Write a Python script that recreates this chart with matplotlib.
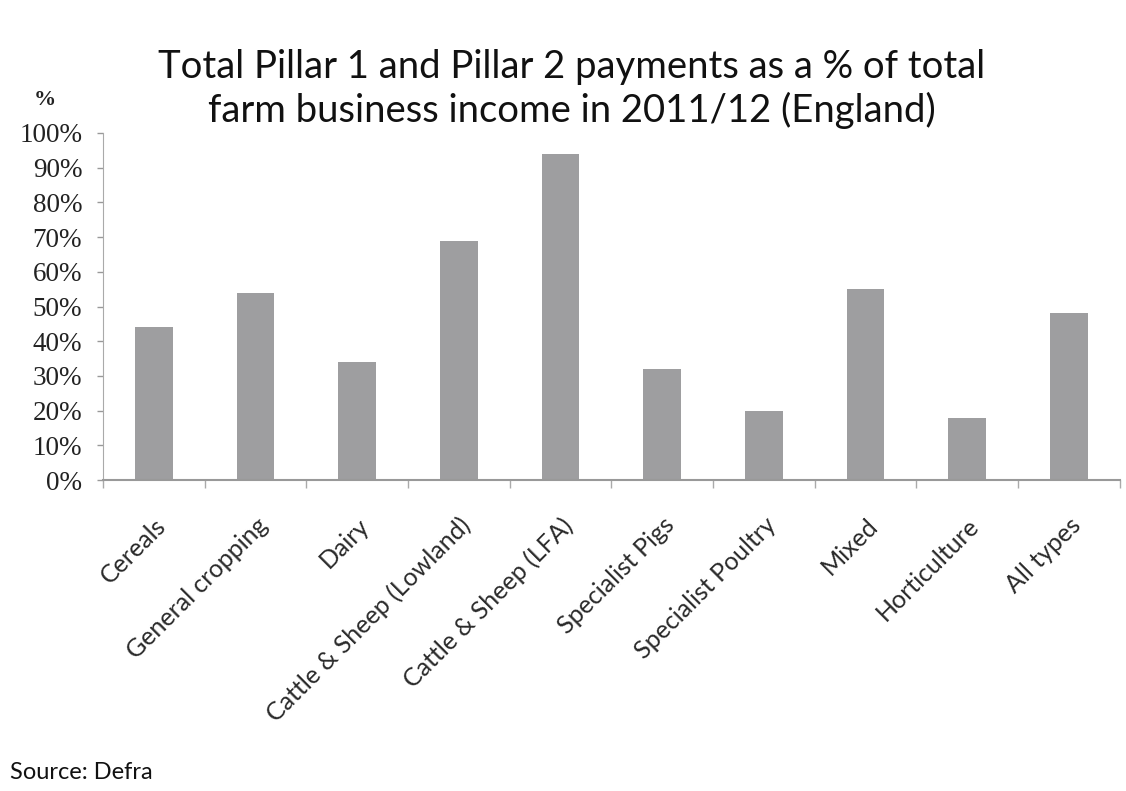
import matplotlib
matplotlib.use("Agg")
import matplotlib.pyplot as plt
import numpy as np
from matplotlib.ticker import FixedLocator, PercentFormatter

categories = ["Cereals", "General cropping", "Dairy", "Cattle & Sheep (Lowland)",
              "Cattle & Sheep (LFA)", "Specialist Pigs", "Specialist Poultry",
              "Mixed", "Horticulture", "All types"]
values = [44, 54, 34, 69, 94, 32, 20, 55, 18, 48]
y_ticks = [0, 10, 20, 30, 40, 50, 60, 70, 80, 90, 100]

title = "Total Pillar 1 and Pillar 2 payments as a % of total\nfarm business income in 2011/12 (England)"

fig = plt.figure(figsize=(11.26, 7.91), dpi=100)
ax = fig.add_axes([0.0915, 0.393, 0.903, 0.439])

x = np.arange(len(categories))
ax.bar(x, values, width=0.37, color="#9e9ea0", edgecolor="none", zorder=2)

ax.set_xlim(-0.5, len(categories) - 0.5)
ax.set_ylim(0, 100)

ax.yaxis.set_major_locator(FixedLocator(y_ticks))
ax.yaxis.set_major_formatter(PercentFormatter(100, decimals=0))
for lab in ax.get_yticklabels():
    lab.set_fontfamily("Liberation Serif")
    lab.set_fontsize(19.5)
    lab.set_color("#222222")
ax.tick_params(axis="y", length=4, width=1, color="#999999", pad=11)

ax.set_xticks(x)
ax.set_xticklabels(categories, rotation=45, ha="right", rotation_mode="anchor",
                   fontfamily="Lato", fontsize=18, color="#2a2a2a")
ax.tick_params(axis="x", length=0, pad=24)
ax.set_xticks(np.arange(len(categories) + 1) - 0.5, minor=True)
ax.tick_params(axis="x", which="minor", length=6, width=1, color="#aaaaaa")

for side in ("top", "right"):
    ax.spines[side].set_visible(False)
ax.spines["left"].set_color("#aaaaaa")
ax.spines["bottom"].set_color("#999999")
ax.spines["bottom"].set_linewidth(1.5)

fig.text(0.508, 0.887, title, ha="center", va="center", fontfamily="Lato",
         fontsize=27.5, color="#111111", linespacing=1.22)
fig.text(0.04, 0.873, "%", ha="center", va="center", fontfamily="Liberation Serif",
         fontsize=16, fontweight="bold", color="#222222")
fig.text(0.009, 0.024, "Source: Defra", ha="left", va="center", fontfamily="Lato",
         fontsize=17, color="#111111")

fig.savefig("out.png", dpi=100, facecolor="white")
